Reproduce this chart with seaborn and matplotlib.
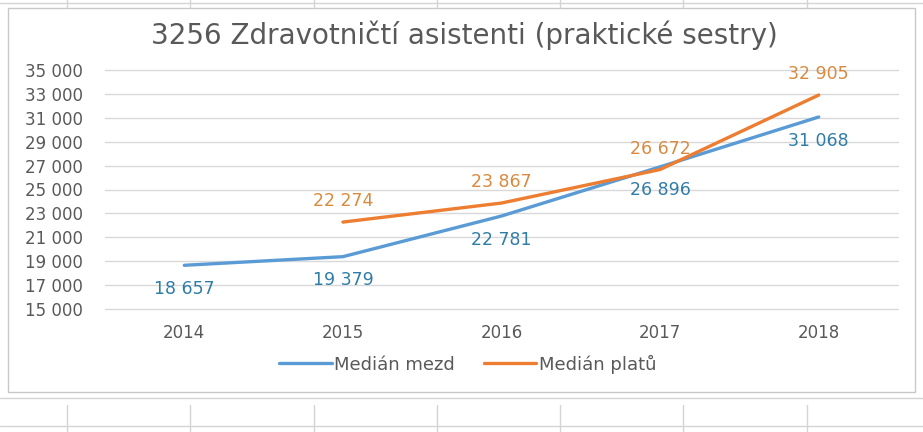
import numpy as np
import pandas as pd
import seaborn as sns
import matplotlib.pyplot as plt
from matplotlib.lines import Line2D
from matplotlib.patches import Rectangle
from matplotlib.ticker import FuncFormatter

years = [2014, 2015, 2016, 2017, 2018]
mezd = [18657, 19379, 22781, 26896, 31068]
platu = [np.nan, 22274, 23867, 26672, 32905]
series_names = ["Medián mezd", "Medián platů"]

sns.set_theme(style="white")
plt.rcParams['font.family'] = ['DejaVu Sans']

df = pd.DataFrame({'rok': years, series_names[0]: mezd, series_names[1]: platu})
long = df.melt('rok', var_name='serie', value_name='hodnota').dropna()

line_colors = {series_names[0]: '#5B9BD5', series_names[1]: '#ED7D31'}
label_colors = {series_names[0]: '#2F7CA8', series_names[1]: '#D98A3E'}
label_offset = {series_names[0]: -17, series_names[1]: 15}

fig = plt.figure(figsize=(9.23, 4.32), dpi=100)
fig.patch.set_facecolor('white')

# spreadsheet cells around the chart
W, H = 923, 432
grid_c = '#D4D4D4'
for x in [67, 190, 314, 437, 560, 683, 807]:
    fig.add_artist(Line2D([x / W, x / W], [0, 27 / H], color=grid_c, lw=1))
    fig.add_artist(Line2D([x / W, x / W], [1 - 8 / H, 1], color=grid_c, lw=1))
for y in [398, 426, 3]:
    fig.add_artist(Line2D([0, 1], [1 - y / H, 1 - y / H], color=grid_c, lw=1))
fig.add_artist(Rectangle((8 / W, 1 - 392 / H), 907 / W, 384 / H, transform=fig.transFigure,
                         facecolor='white', edgecolor='#C8C8C8', lw=1, zorder=1))

ax = fig.add_axes([105 / W, 1 - 309 / H, 793 / W, 239 / H], zorder=2)
ax.set_facecolor('none')
sns.lineplot(data=long, x='rok', y='hodnota', hue='serie', palette=line_colors,
             linewidth=2.4, ax=ax, legend=True)

for name in series_names:
    sub = long[long['serie'] == name]
    for x, y in zip(sub['rok'], sub['hodnota']):
        ax.annotate(f"{int(y):,}".replace(',', ' '), (x, y),
                    xytext=(0, label_offset[name]), textcoords='offset points',
                    ha='center', va='center', fontsize=12.5, color=label_colors[name])

ax.set_xlim(2013.5, 2018.5)
ax.set_ylim(15000, 35000)
ax.set_xticks(years)
ax.set_yticks(range(15000, 35001, 2000))
ax.yaxis.set_major_formatter(FuncFormatter(lambda v, p: f"{int(v):,}".replace(',', ' ')))
ax.grid(axis='y', color='#D9D9D9', lw=1)
ax.grid(axis='x', visible=False)
for gl in ax.get_ygridlines():
    gl.set_clip_on(False)
for s in ax.spines.values():
    s.set_visible(False)
ax.tick_params(axis='both', length=0, labelsize=12, colors='#595959')
ax.tick_params(axis='x', pad=11)
ax.tick_params(axis='y', pad=16)
ax.set_xlabel('')
ax.set_ylabel('')

handles, labels = ax.get_legend_handles_labels()
ax.get_legend().remove()
fig.legend(handles, labels, loc='center', bbox_to_anchor=(468 / W, 1 - 364 / H), ncol=2,
           frameon=False, fontsize=13, handlelength=2.9, handletextpad=0.15,
           columnspacing=1.6, labelcolor='#595959')

fig.text(464 / W, 1 - 35 / H, "3256 Zdravotničtí asistenti (praktické sestry)",
         ha='center', va='center', fontsize=20, color='#595959')

fig.savefig('out.png', dpi=100)
